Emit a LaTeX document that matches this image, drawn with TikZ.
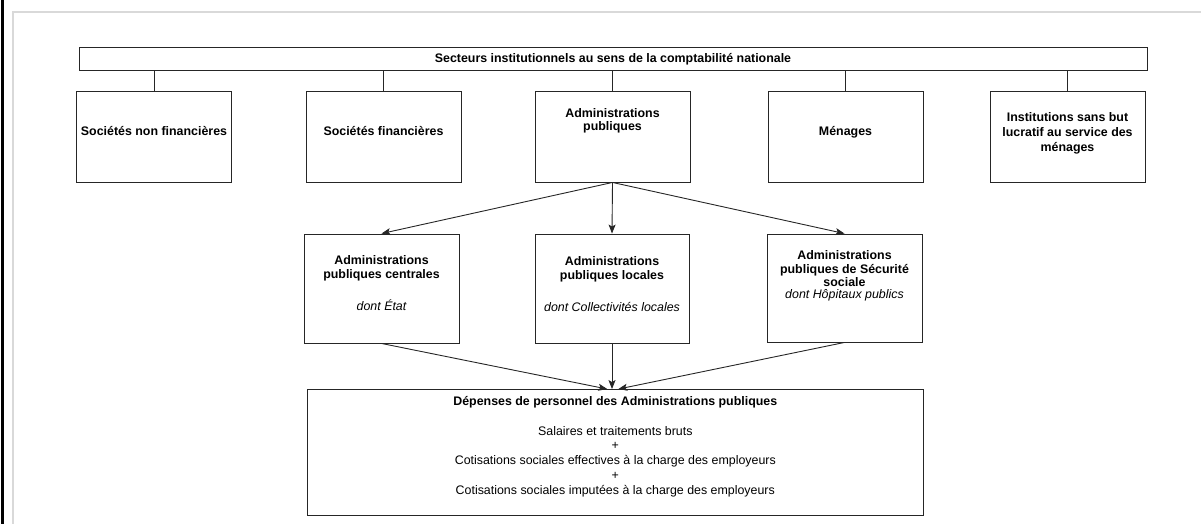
\documentclass[tikz,border=0pt]{standalone}
\usepackage{fontspec}
\setmainfont{Liberation Sans}
\usetikzlibrary{arrows.meta}

\begin{document}
\begin{tikzpicture}[x=1pt,y=-1pt,
    cadre/.style={draw=black!85, line width=0.9pt, inner sep=0pt},
    texte/.style={inner sep=0pt, align=center, font=\fontsize{12.4}{14}\selectfont},
    gras/.style={inner sep=0pt, align=center, font=\fontsize{12.4}{14}\selectfont\bfseries},
    lien/.style={draw=black!85, line width=0.9pt},
    fleche/.style={lien, -{Stealth[length=9pt,width=7pt,inset=2pt]}}]
    \useasboundingbox (0,0) rectangle (1201,524);
    % Draw the frame
    \draw[black!15, line width=1.5pt] (13,524) -- (13,12) -- (1201,12);
    \draw[black, line width=3pt] (2.5,0) -- (2.5,524);

    % Secteurs institutionnels
    \node[cadre, gras, minimum width=1068pt, minimum height=23pt] (secteurs) at (613,59.2) {Secteurs institutionnels au sens de la comptabilité nationale};

    \node[cadre, minimum width=155pt, minimum height=91pt] (snf) at (154,136.5) {};
    \node[cadre, minimum width=155pt, minimum height=91pt] (sf) at (383.5,136.5) {};
    \node[cadre, minimum width=155pt, minimum height=91pt] (apu) at (612.5,136.5) {};
    \node[cadre, minimum width=155pt, minimum height=91pt] (men) at (845.5,136.5) {};
    \node[cadre, minimum width=155pt, minimum height=91pt] (isbl) at (1067.5,136.5) {};

    \node[gras, anchor=north] (t-snf) at (154,126.5) {Sociétés non financières};
    \node[gras, anchor=north] (t-sf) at (383.5,126.5) {Sociétés financières};
    \node[gras, anchor=north] (t-apu) at (612.5,108) {Administrations\\[-1pt]publiques};
    \node[gras, anchor=north] (t-men) at (845.5,126) {Ménages};
    \node[gras, anchor=north] (t-isbl) at (1067.5,112.5) {Institutions sans but\\[1pt]lucratif au service des\\[1pt]ménages};

    \draw[lien] (snf.north) -- (snf.north |- secteurs.south);
    \draw[lien] (sf.north) -- (sf.north |- secteurs.south);
    \draw[lien] (apu.north) -- (apu.north |- secteurs.south);
    \draw[lien] (men.north) -- (men.north |- secteurs.south);
    \draw[lien] (isbl.north) -- (isbl.north |- secteurs.south);

    % Sous-secteurs des administrations publiques
    \node[cadre, minimum width=155pt, minimum height=109pt] (apuc) at (381.5,288.5) {};
    \node[cadre, minimum width=154pt, minimum height=109pt] (apul) at (612,288.5) {};
    \node[cadre, minimum width=155pt, minimum height=108pt] (asso) at (844.5,288) {};

    \node[gras, anchor=north] (t-apuc) at (381.5,255) {Administrations\\publiques centrales\\[18pt]\normalfont\itshape dont État};
    \node[gras, anchor=north] (t-apul) at (612,256) {Administrations\\publiques locales\\[18pt]\normalfont\itshape dont Collectivités locales};
    \node[gras, anchor=north] (t-asso) at (844.5,250.5) {Administrations\\publiques de Sécurité\\[-1pt]sociale\\[-2pt]\normalfont\itshape dont Hôpitaux publics};

    \draw[fleche] (apu.south) -- (apuc.north);
    \draw[fleche] (apu.south) -- (apul.north);
    \draw[fleche] (apu.south) -- (asso.north);

    % Depenses de personnel
    \node[cadre, minimum width=616pt, minimum height=126pt] (dep) at (615.3,452.5) {};
    \node[texte, anchor=north, font=\fontsize{12.4}{15}\selectfont] (t-dep) at (615.3,396.5) {\bfseries Dépenses de personnel des Administrations publiques\\[15pt]Salaires et traitements bruts\\[-1pt]+\\Cotisations sociales effectives à la charge des employeurs\\+\\Cotisations sociales imputées à la charge des employeurs};

    \draw[fleche] (apuc.south) -- ([xshift=-8pt]dep.north);
    \draw[fleche] (apul.south) -- (apul.south |- dep.north);
    \draw[fleche] (asso.south) -- ([xshift=3pt]dep.north);
\end{tikzpicture}
\end{document}
